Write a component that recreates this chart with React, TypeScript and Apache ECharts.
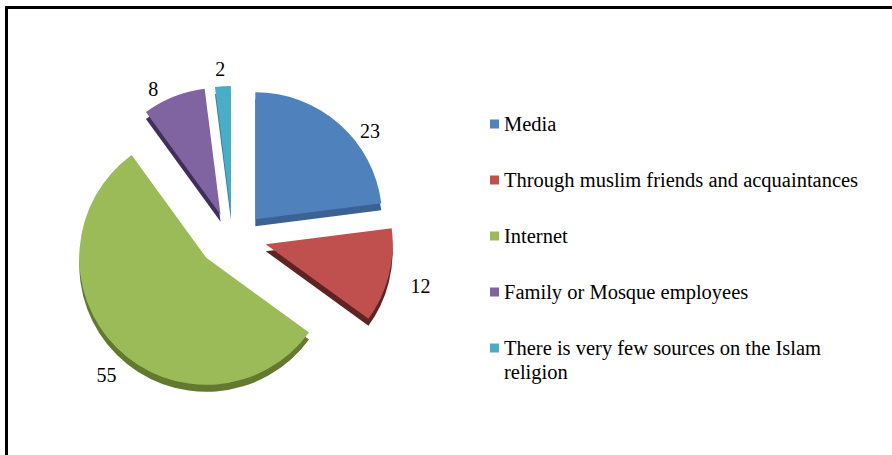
import React, { useEffect, useRef } from "react";
import * as echarts from "echarts";

const categories = [
  "Media",
  "Through muslim friends and acquaintances",
  "Internet",
  "Family or Mosque employees",
  "There is very few sources on the Islam religion",
];
const values = [23, 12, 55, 8, 2];
const topColors = ["#4f81bd", "#c0504d", "#9bbb59", "#8064a2", "#4bacc6"];
const sideColors = ["#3b6294", "#5e2322", "#62792f", "#3f2f5c", "#2f7f94"];
const explode = [25, 25, 28, 25, 25];
const labelNudge = [
  [9, 15],
  [7, 8],
  [12, 20],
  [-7, 2],
  [8, -7],
];

const FONT = "'Liberation Serif', 'Times New Roman', serif";

export default function App() {
  const ref = useRef<HTMLDivElement>(null);

  useEffect(() => {
    document.body.style.margin = "0";
    const chart = echarts.init(ref.current!, null, { renderer: "svg" });

    const total = values.reduce((a, b) => a + b, 0);
    const base = [233, 238];
    const explodeScaleX = 1.35;
    const radius = 127;
    const depth = 7;

    const sideSeries: any[] = [];
    const topSeries: any[] = [];
    let cum = 0;
    values.forEach((v, i) => {
      const startAngle = 90 - (cum / total) * 360;
      const endAngle = 90 - ((cum + v) / total) * 360;
      const mid = ((cum + v / 2) / total) * 360 * (Math.PI / 180);
      cum += v;
      const cx = base[0] + Math.sin(mid) * explode[i] * explodeScaleX;
      const cy = base[1] - Math.cos(mid) * explode[i];
      const common = {
        type: "pie",
        radius: [0, radius],
        startAngle,
        endAngle,
        clockwise: true,
        avoidLabelOverlap: false,
        animation: false,
      };
      sideSeries.push({
        ...common,
        name: categories[i] + " side",
        center: [cx, cy + depth],
        silent: true,
        z: 1,
        label: { show: false },
        labelLine: { show: false },
        emphasis: { disabled: true },
        data: [
          {
            name: categories[i] + " (side)",
            value: v,
            itemStyle: { color: sideColors[i] },
          },
        ],
      });
      const nudge = labelNudge[i];
      topSeries.push({
        ...common,
        name: categories[i],
        color: [topColors[i]],
        center: [cx, cy],
        z: 2,
        label: {
          show: true,
          position: "outside",
          formatter: "{c}",
          color: "#000",
          fontFamily: FONT,
          fontSize: 20,
        },
        labelLine: { show: false, length: 10, length2: 0 },
        labelLayout: () => ({ dx: nudge[0], dy: nudge[1] }),
        emphasis: { disabled: true },
        data: [
          {
            name: categories[i],
            value: v,
            itemStyle: { color: topColors[i] },
          },
        ],
      });
    });

    const legendItem = (i: number) => ({
      name: categories[i],
      itemStyle: { color: topColors[i] },
    });

    const legendText = {
      fontFamily: FONT,
      fontSize: 20.5,
      color: "#000",
      lineHeight: 24,
    };

    chart.setOption({
      animation: false,
      backgroundColor: "#ffffff",
      legend: [
        {
          orient: "vertical",
          left: 490,
          top: 112,
          padding: 0,
          itemGap: 32,
          itemWidth: 9,
          itemHeight: 9,
          icon: "rect",
          selectedMode: false,
          data: [0, 1, 2, 3].map(legendItem),
          textStyle: legendText,
        },
        {
          orient: "vertical",
          left: 490,
          top: 312,
          padding: 0,
          itemWidth: 9,
          itemHeight: 9,
          icon: "rect",
          selectedMode: false,
          data: [legendItem(4)],
          formatter: (n: string) => "\n" + n.replace(" religion", "\nreligion"),
          textStyle: legendText,
        },
      ],
      graphic: [
        {
          type: "line",
          shape: { x1: 5, y1: 7.5, x2: 892, y2: 7.5 },
          style: { stroke: "#000", lineWidth: 3 },
        },
        {
          type: "line",
          shape: { x1: 6.5, y1: 6, x2: 6.5, y2: 455 },
          style: { stroke: "#000", lineWidth: 3 },
        },
      ],
      series: [...sideSeries, ...topSeries],
    });

    return () => chart.dispose();
  }, []);

  return (
    <div
      ref={ref}
      style={{ position: "fixed", left: 0, top: 0, width: 892, height: 455 }}
    />
  );
}
